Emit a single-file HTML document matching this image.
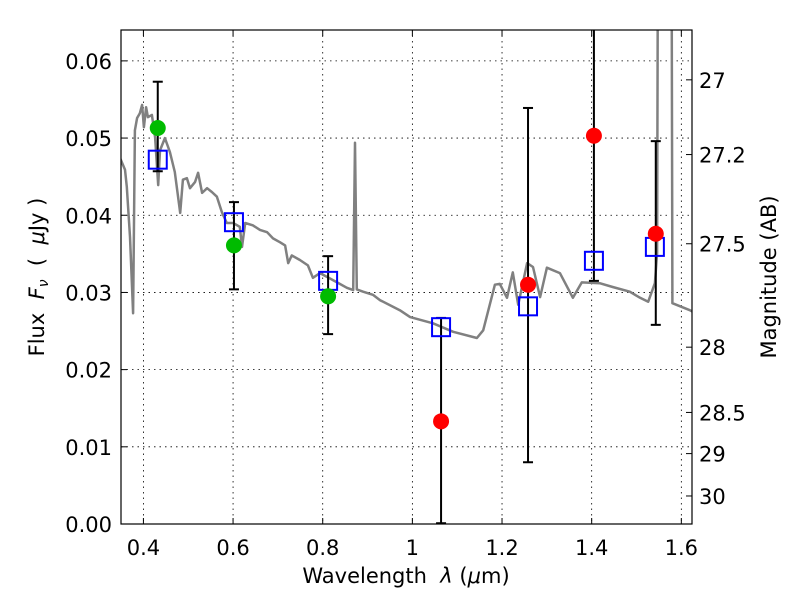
<!DOCTYPE html>
<html><head><meta charset="utf-8"><style>
body{margin:0;background:#fff;}
svg text{font-family:"DejaVu Sans","Liberation Sans",sans-serif;white-space:pre;}
</style></head><body>
<svg id="chart" width="800" height="600" viewBox="0 0 800 600" xmlns="http://www.w3.org/2000/svg">
<defs><clipPath id="clip"><rect x="121" y="30" width="571" height="494"/></clipPath></defs>
<rect width="800" height="600" fill="#fff"/>
<g id="grid"></g>
<g id="spec" clip-path="url(#clip)"></g>
<g id="marks" clip-path="url(#clip)"></g>
<rect x="121" y="30" width="571" height="494" fill="none" stroke="#000" stroke-width="1.2"/>
<g id="axes"></g>
<text x="406" y="583" font-size="21" text-anchor="middle">Wavelength  <tspan font-style="italic">λ</tspan> (<tspan font-style="italic">μ</tspan>m)</text>
<text transform="translate(44,277) rotate(-90)" font-size="21" text-anchor="middle">Flux  <tspan font-style="italic">F</tspan><tspan font-style="italic" font-size="14" dy="4">ν</tspan><tspan dy="-4">  (  </tspan><tspan font-style="italic">μ</tspan>Jy )</text>
<text transform="translate(776,277) rotate(-90)" font-size="21" text-anchor="middle">Magnitude (AB)</text>
</svg>
<script>
const specWave=[0.348,0.359,0.363,0.370,0.377,0.381,0.386,0.392,0.397,0.401,0.406,0.410,0.419,0.426,0.433,0.437,0.448,0.459,0.470,0.482,0.488,0.497,0.504,0.515,0.522,0.531,0.542,0.553,0.564,0.575,0.586,0.600,0.615,0.620,0.627,0.644,0.660,0.676,0.689,0.705,0.716,0.723,0.731,0.749,0.767,0.778,0.794,0.810,0.832,0.854,0.868,0.872,0.876,0.890,0.912,0.928,0.972,0.995,1.046,1.091,1.144,1.158,1.184,1.195,1.211,1.224,1.236,1.256,1.269,1.285,1.300,1.329,1.358,1.378,1.418,1.447,1.485,1.508,1.526,1.541,1.546,1.548,1.578,1.580,1.619,1.625];
const specFlux=[0.0474,0.0459,0.0437,0.0372,0.0273,0.0510,0.0526,0.0532,0.0543,0.0514,0.0540,0.0527,0.0530,0.0501,0.0439,0.0484,0.0500,0.0482,0.0456,0.0403,0.0446,0.0448,0.0435,0.0443,0.0455,0.0429,0.0435,0.0430,0.0424,0.0404,0.0390,0.0390,0.0385,0.0359,0.0390,0.0387,0.0381,0.0378,0.0370,0.0365,0.0361,0.0338,0.0348,0.0342,0.0335,0.0319,0.0325,0.0320,0.0313,0.0306,0.0303,0.0494,0.0304,0.0301,0.0297,0.0290,0.0277,0.0268,0.0260,0.0249,0.0241,0.0251,0.0310,0.0311,0.0293,0.0326,0.0284,0.0338,0.0333,0.0294,0.0332,0.0325,0.0293,0.0313,0.0312,0.0307,0.0301,0.0293,0.0288,0.0312,0.0351,0.080,0.080,0.0286,0.0277,0.0275];
const greenWave=[0.432,0.602,0.812];
const greenFlux=[0.0513,0.0361,0.0295];
const greenErrHi=[0.0573,0.0417,0.0347];
const greenErrLo=[0.0457,0.0304,0.0246];
const redWave=[1.064,1.258,1.405,1.543];
const redFlux=[0.0133,0.0310,0.0503,0.0376];
const redErrHi=[0.0267,0.0539,0.0700,0.0496];
const redErrLo=[0.0001,0.0080,0.0315,0.0258];
const modelWave=[0.432,0.602,0.812,1.064,1.258,1.405,1.541];
const modelFlux=[0.0472,0.0391,0.0315,0.0255,0.0282,0.0341,0.0359];
const xTicks=[0.4,0.6,0.8,1.0,1.2,1.4,1.6];
const xTickLabels=["0.4","0.6","0.8","1","1.2","1.4","1.6"];
const yTicks=[0,0.01,0.02,0.03,0.04,0.05,0.06];
const yTickLabels=["0.00","0.01","0.02","0.03","0.04","0.05","0.06"];
const magTicks=[27,27.2,27.5,28,28.5,29,30];
const magTickLabels=["27","27.2","27.5","28","28.5","29","30"];

const X0=121,X1=692,Y0=524,Y1=30,xmin=0.35,xmax=1.6238,ymin=0,ymax=0.064;
const sx=v=>X0+(v-xmin)/(xmax-xmin)*(X1-X0);
const sy=v=>Y0-(v-ymin)/(ymax-ymin)*(Y0-Y1);
const NS="http://www.w3.org/2000/svg";
function mk(parent,tag,attrs,txt){const e=document.createElementNS(NS,tag);for(const k in attrs)e.setAttribute(k,attrs[k]);if(txt!==undefined)e.textContent=txt;parent.appendChild(e);return e;}
const grid=document.getElementById('grid'),axes=document.getElementById('axes'),spec=document.getElementById('spec'),marks=document.getElementById('marks');
xTicks.forEach((t,i)=>{const x=sx(t);
 let g=mk(grid,'line',{x1:x,x2:x,y1:Y1,y2:Y0,stroke:'#000','stroke-width':0.8,'stroke-dasharray':'1.5,4'});
 
 mk(axes,'line',{x1:x,x2:x,y1:Y0,y2:Y0-6,stroke:'#000'});mk(axes,'line',{x1:x,x2:x,y1:Y1,y2:Y1+6,stroke:'#000'});
 let l=mk(axes,'text',{x:x,y:555,'font-size':21,'text-anchor':'middle'},xTickLabels[i]);
 });
yTicks.forEach((t,i)=>{const y=sy(t);
 let g=mk(grid,'line',{x1:X0,x2:X1,y1:y,y2:y,stroke:'#000','stroke-width':0.8,'stroke-dasharray':'1.5,4'});
 
 mk(axes,'line',{x1:X0,x2:X0+6,y1:y,y2:y,stroke:'#000'});
 let l=mk(axes,'text',{x:112,y:y+8,'font-size':21,'text-anchor':'end'},yTickLabels[i]);
 });
magTicks.forEach((m,i)=>{const f=Math.pow(10,(23.9-m)/2.5);const y=sy(f);
 mk(axes,'line',{x1:X1,x2:X1-6,y1:y,y2:y,stroke:'#000'});
 let l=mk(axes,'text',{x:699,y:y+8,'font-size':21},magTickLabels[i]);
 });
let d=specWave.map((w,i)=>(i?'L':'M')+sx(w).toFixed(1)+','+sy(specFlux[i]).toFixed(1)).join(' ');
let p=mk(spec,'path',{d:d,fill:'none',stroke:'#808080','stroke-width':2.5,'stroke-linejoin':'round'});

function errbar(w,lo,hi){const x=sx(w);
 let e=mk(marks,'g',{stroke:'#000','stroke-width':2});
 
 mk(e,'line',{x1:x,x2:x,y1:sy(lo),y2:sy(hi)});mk(e,'line',{x1:x-5,x2:x+5,y1:sy(lo),y2:sy(lo)});mk(e,'line',{x1:x-5,x2:x+5,y1:sy(hi),y2:sy(hi)});}
greenWave.forEach((w,i)=>errbar(w,greenErrLo[i],greenErrHi[i]));
redWave.forEach((w,i)=>errbar(w,redErrLo[i],redErrHi[i]));
modelWave.forEach((w,i)=>{let r=mk(marks,'rect',{x:sx(w)-9,y:sy(modelFlux[i])-9,width:18,height:18,fill:'none',stroke:'#0000ff','stroke-width':2});
 });
greenWave.forEach((w,i)=>{let c=mk(marks,'circle',{cx:sx(w),cy:sy(greenFlux[i]),r:8,fill:'#00bb00'});
 });
redWave.forEach((w,i)=>{let c=mk(marks,'circle',{cx:sx(w),cy:sy(redFlux[i]),r:8,fill:'#ff0000'});
 });
</script>
</body></html>
